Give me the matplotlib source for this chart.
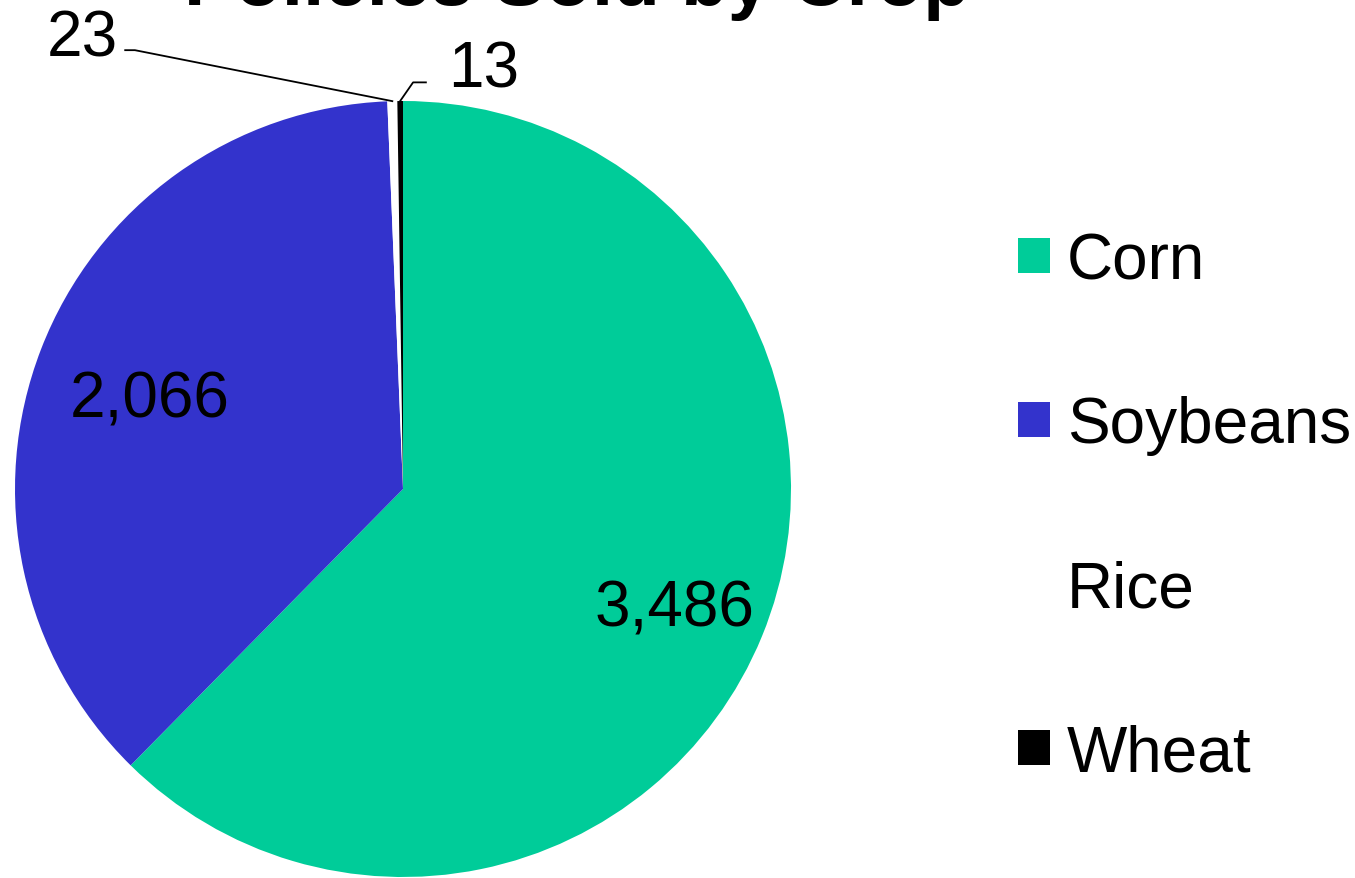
import numpy as np
import matplotlib
matplotlib.use("Agg")
import matplotlib.pyplot as plt

plt.rcParams['font.family'] = ['Liberation Sans', 'DejaVu Sans']

crops = ["Corn", "Soybeans", "Rice", "Wheat"]
policies = [3486, 2066, 23, 13]
colors = ["#00CC99", "#3333CC", "#FFFFFF", "#000000"]

W, H = 1355, 879
fig = plt.figure(figsize=(W / 100, H / 100), dpi=100)
# pie box in pixels: x 15..791, y 102..878
ax = fig.add_axes([15 / W, 1 / H, 776 / W, 776 / H])

wedges, _ = ax.pie(policies, colors=colors, startangle=90, counterclock=False,
                   radius=1, wedgeprops=dict(linewidth=0))
ax.set_xlim(-1, 1)
ax.set_ylim(-1, 1)
ax.set_aspect('equal')
ax.axis('off')

fs = 46

# labels inside the two big slices
inner_r = [0.755, 0.70]
for w, v, r in zip(wedges[:2], policies[:2], inner_r):
    a = np.deg2rad((w.theta1 + w.theta2) / 2)
    ax.text(r * np.cos(a), r * np.sin(a) - 0.022, f"{v:,}", ha='center', va='center',
            fontsize=fs, color='black')

# small slices, outside with leader lines
# (knee, end of line, text position) in data units
outside = [((-0.691, 1.131), (-0.716, 1.131), (-0.827, 1.160)),
           ((0.026, 1.048), (0.059, 1.048), (0.209, 1.080))]
for w, v, (knee, end, tpos) in zip(wedges[2:], policies[2:], outside):
    a = np.deg2rad((w.theta1 + w.theta2) / 2)
    ax.plot([np.cos(a), knee[0], end[0]], [np.sin(a), knee[1], end[1]],
            color='black', lw=1.3, clip_on=False)
    ax.text(tpos[0], tpos[1], f"{v:,}", ha='center', va='center',
            fontsize=fs, color='black', clip_on=False)

fig.text(577 / W, 1 - 5 / H, "Policies Sold by Crop", ha='center', va='baseline',
         fontsize=55, fontweight='bold')

fig.legend(wedges, crops, loc='upper left', bbox_to_anchor=(1018 / W, 1 - 232 / H),
           frameon=False, fontsize=fs, handlelength=0.5, handleheight=0.46,
           handletextpad=0.27, labelspacing=1.63, borderaxespad=0, borderpad=0)

fig.savefig("out.png", dpi=100)
